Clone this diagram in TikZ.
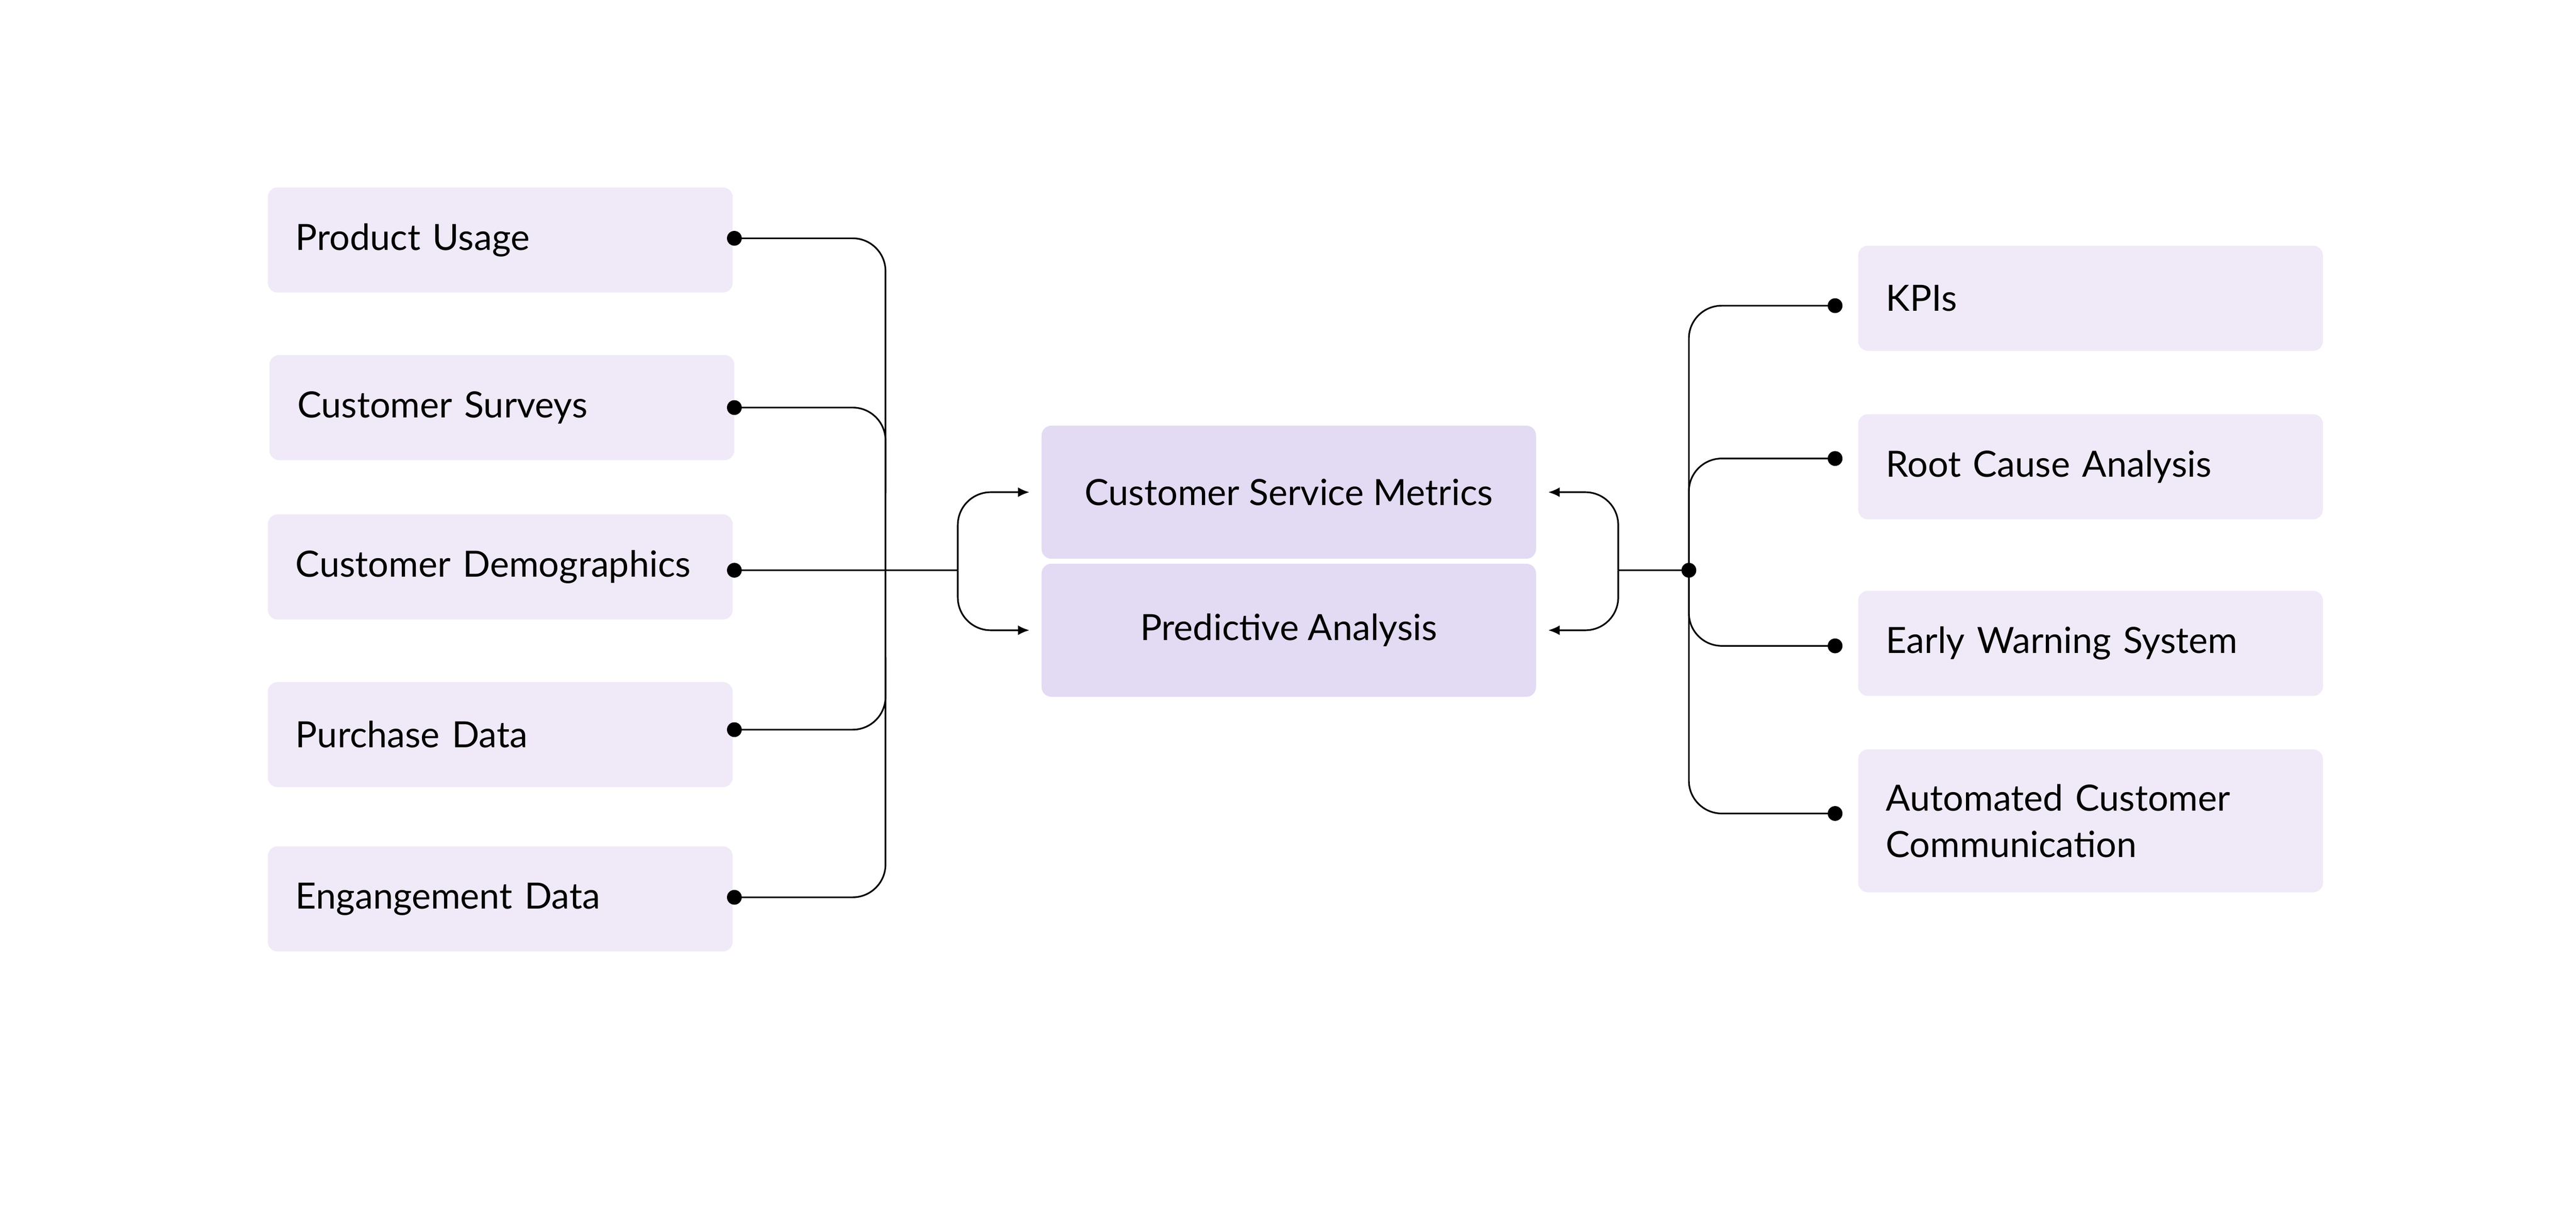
\documentclass[tikz,border=0pt]{standalone}
\usepackage{fontspec}
\setmainfont{Lato}
\usetikzlibrary{positioning, arrows.meta}
\definecolor{boxlight}{HTML}{F0EAF8}
\definecolor{boxdark}{HTML}{E3DAF3}
\tikzset{
    box/.style={fill=boxlight, rounded corners=3pt, minimum width=141.5pt, minimum height=32pt,
        text width=124.5pt, inner xsep=8.5pt, align=left, font=\fontsize{11}{14}\selectfont},
    core/.style={fill=boxdark, rounded corners=3pt, minimum width=150.5pt, minimum height=40.5pt,
        align=center, font=\fontsize{11}{14}\selectfont},
    link/.style={draw=black, line width=0.5pt, rounded corners=10pt},
    tip/.style={link, -{Latex[length=3.5pt,width=3pt]}, shorten >=3.5pt},
    dot/.style={circle, fill=black, inner sep=0pt, minimum size=4.5pt}
}
\begin{document}
\begin{tikzpicture}[x=0.5pt, y=-0.5pt]
    \useasboundingbox (0,0) rectangle (1568,735);
    % Inputs
    \node[box] (usage) at (304.5,146) {Product Usage};
    \node[box] (surveys) at (305.5,248) {Customer Surveys};
    \node[box] (demo) at (304.5,345) {Customer Demographics};
    \node[box] (purchase) at (304.5,447) {Purchase Data};
    \node[box] (engage) at (304.5,547) {Engangement Data};
    % Core
    \node[core] (csm) at (784.5,299.5) {Customer Service Metrics};
    \node[core] (pred) at (784.5,383.5) {Predictive Analysis};
    % Outputs
    \node[box] (kpi) at (1272.5,181.5) {KPIs};
    \node[box] (root) at (1272.5,284) {Root Cause Analysis};
    \node[box] (early) at (1272.5,391.5) {Early Warning System};
    \node[box, minimum height=43.5pt] (auto) at (1272.5,499.5) {Automated Customer\\Communication};
    % Junctions
    \coordinate (split) at (583,347);
    \coordinate (rsplit) at (985,347);
    \node[dot] (hub) at (1028,347) {};
    \node[dot] (d1) at (447,145) {};
    \node[dot] (d2) at (447,248) {};
    \node[dot] (d3) at (447,347) {};
    \node[dot] (d4) at (447,444) {};
    \node[dot] (d5) at (447,546) {};
    \node[dot] (k1) at (1117,186) {};
    \node[dot] (k2) at (1117,279) {};
    \node[dot] (k3) at (1117,393) {};
    \node[dot] (k4) at (1117,495) {};
    % Left links
    \draw[link] (d1.center) -| (539,346) |- (d5.center);
    \draw[link] (d2.center) -| (539,300);
    \draw[link] (d4.center) -| (539,400);
    \draw[link] (d3.center) -- (split);
    \draw[tip] (split) |- (csm.west);
    \draw[tip] (split) |- (pred.west);
    % Right links
    \draw[tip] (rsplit) |- (csm.east);
    \draw[tip] (rsplit) |- (pred.east);
    \draw[link] (rsplit) -- (hub.center);
    \draw[link] (hub.center) |- (k1.center);
    \draw[link] (hub.center) |- (k2.center);
    \draw[link] (hub.center) |- (k3.center);
    \draw[link] (hub.center) |- (k4.center);
\end{tikzpicture}
\end{document}
